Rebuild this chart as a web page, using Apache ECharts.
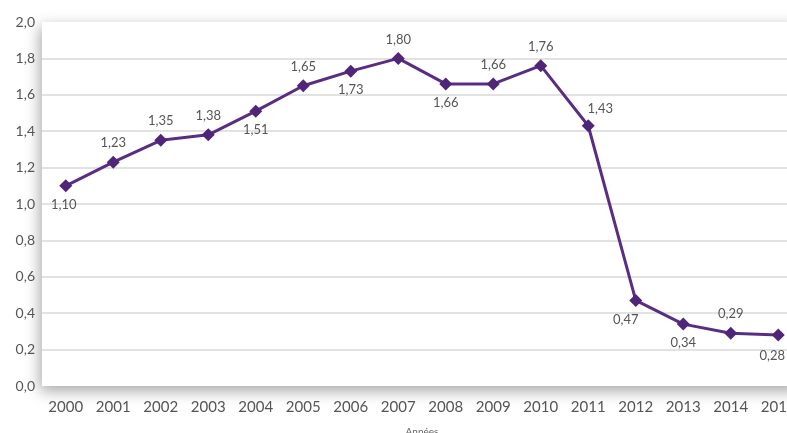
<!DOCTYPE html>
<html><head><meta charset="utf-8">
<script src="https://cdn.jsdelivr.net/npm/echarts@6/dist/echarts.min.js"></script>
<style>html,body{margin:0;padding:0;background:#fff;overflow:hidden;width:787px;height:433px}#c{width:806px;height:433px}</style>
</head><body><div id="c"></div>
<script>
const years = ['2000','2001','2002','2003','2004','2005','2006','2007','2008','2009','2010','2011','2012','2013','2014','2015'];
const values = [1.10,1.23,1.35,1.38,1.51,1.65,1.73,1.80,1.66,1.66,1.76,1.43,0.47,0.34,0.29,0.28];
const labelPos = ['bottom','top','top','top','bottom','top','bottom','top','bottom','top','top','top','bottom','bottom','top','bottom'];
const labelOffset = {0:[-2,0],11:[12,2],12:[-10,0],15:[-6,2]};
const yTicks = [0,0.2,0.4,0.6,0.8,1.0,1.2,1.4,1.6,1.8,2.0];

const fmt = v => v.toFixed(2).replace('.', ',');
const chart = echarts.init(document.getElementById('c'));
chart.setOption({
  animation:false,
  backgroundColor:'#fff',
  grid:{left:42, top:22, right:4, bottom:47, outerBoundsMode:'none', containLabel:false,
        show:true, borderWidth:0, backgroundColor:'#fff',
        shadowBlur:14, shadowColor:'rgba(0,0,0,0.35)', shadowOffsetX:-2, shadowOffsetY:5},
  xAxis:{type:'category', data:years, boundaryGap:true,
    axisLine:{show:false}, axisTick:{show:false},
    axisLabel:{color:'#555', fontSize:15, fontFamily:'Lato', margin:14, interval:0},
    name:'Années', nameLocation:'middle', nameGap:41, nameTextStyle:{color:'#666', fontSize:10, fontFamily:'Lato'}},
  yAxis:{type:'value', min:0, max:2, interval:0.2,
    axisLine:{show:false}, axisTick:{show:false},
    axisLabel:{color:'#555', fontSize:14, fontFamily:'Lato', margin:7, formatter:v=>v.toFixed(1).replace('.', ',')},
    splitLine:{lineStyle:{width:2, color:yTicks.map((t,i)=> (i===0||i===yTicks.length-1)?'rgba(0,0,0,0)':'#e2e2e2')}}},
  series:[{type:'line', symbol:'diamond', symbolSize:13,
    lineStyle:{color:'#5a2d84', width:3},
    itemStyle:{color:'#4f2577'},
    data: values.map((v,i)=>({value:v, label:{position:labelPos[i], offset:labelOffset[i]||[0,0]}})),
    label:{show:true, color:'#555', fontSize:13, fontFamily:'Lato', distance:6, formatter:p=>fmt(p.value)}
  }]
});
</script></body></html>
